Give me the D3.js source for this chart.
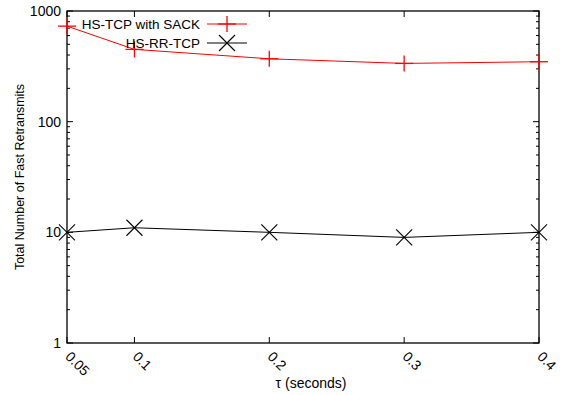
<!DOCTYPE html>
<html>
<head>
<meta charset="utf-8">
<script src="https://cdn.jsdelivr.net/npm/d3@7"></script>
<style>
  body { margin: 0; background: #fff; }
  text { font-family: "Liberation Sans", Arial, sans-serif; font-size: 14px; fill: #000; }
</style>
</head>
<body>
<svg></svg>
<script>
const taus = [0.05, 0.1, 0.2, 0.3, 0.4];
const sackValues = [730, 450, 370, 336, 348];
const rrValues = [10, 11, 10, 9, 10];
const yTicks = [1, 10, 100, 1000];

const WIDTH = 563;
const HEIGHT = 395;
const margin = {top: 11, right: 24, bottom: 52, left: 67};

const svg = d3.select('svg')
    .attr('width', WIDTH)
    .attr('height', HEIGHT);

const x = d3.scaleLinear()
    .domain([0.05, 0.4])
    .range([margin.left, WIDTH - margin.right]);
const y = d3.scaleLog()
    .domain([1, 1000])
    .range([HEIGHT - margin.bottom, margin.top]);

const [x0, x1] = x.range();
const [y0, y1] = y.range();

// minor log ticks, inward on left and right
const minor = [];
for (let d = 1; d < 1000; d *= 10) {
  for (let k = 2; k < 10; k++) minor.push(d * k);
}
const ticks = svg.append('g').attr('stroke', '#000').attr('stroke-width', 1);
minor.forEach((v) => {
  ticks.append('line').attr('x1', x0).attr('x2', x0 + 3).attr('y1', y(v)).attr('y2', y(v));
  ticks.append('line').attr('x1', x1).attr('x2', x1 - 3).attr('y1', y(v)).attr('y2', y(v));
});
yTicks.forEach((v) => {
  ticks.append('line').attr('x1', x0).attr('x2', x0 + 6).attr('y1', y(v)).attr('y2', y(v));
  ticks.append('line').attr('x1', x1).attr('x2', x1 - 6).attr('y1', y(v)).attr('y2', y(v));
  svg.append('text')
      .attr('x', x0 - 6)
      .attr('y', y(v))
      .attr('dy', '0.35em')
      .attr('text-anchor', 'end')
      .text(v);
});
taus.forEach((t) => {
  ticks.append('line').attr('x1', x(t)).attr('x2', x(t)).attr('y1', y0).attr('y2', y0 - 6);
  ticks.append('line').attr('x1', x(t)).attr('x2', x(t)).attr('y1', y1).attr('y2', y1 + 6);
  svg.append('text')
      .attr('transform', `translate(${x(t) + 1}, ${y0 + 11}) rotate(45)`)
      .attr('dy', '0.35em')
      .text(String(t));
});

// frame
svg.append('rect')
    .attr('x', x0).attr('y', y1)
    .attr('width', x1 - x0).attr('height', y0 - y1)
    .attr('fill', 'none')
    .attr('stroke', '#000')
    .attr('stroke-width', 1.3);

// axis titles
svg.append('text')
    .attr('transform', `translate(24, ${(y0 + y1) / 2}) rotate(-90)`)
    .attr('text-anchor', 'middle')
    .style('font-size', '12.5px')
    .text('Total Number of Fast Retransmits');
svg.append('text')
    .attr('x', (x0 + x1) / 2 + 8)
    .attr('y', 388)
    .attr('text-anchor', 'middle')
    .text('τ (seconds)');

const line = d3.line()
    .x((d) => x(d[0]))
    .y((d) => y(d[1]));

function plus(g, cx, cy, color) {
  g.append('line').attr('x1', cx - 9).attr('x2', cx + 9).attr('y1', cy).attr('y2', cy)
      .attr('stroke', color).attr('stroke-width', 1.3);
  g.append('line').attr('x1', cx).attr('x2', cx).attr('y1', cy - 8).attr('y2', cy + 8)
      .attr('stroke', color).attr('stroke-width', 1.3);
}
function cross(g, cx, cy, color) {
  g.append('line').attr('x1', cx - 8).attr('x2', cx + 8).attr('y1', cy - 8).attr('y2', cy + 8)
      .attr('stroke', color).attr('stroke-width', 1.1);
  g.append('line').attr('x1', cx - 8).attr('x2', cx + 8).attr('y1', cy + 8).attr('y2', cy - 8)
      .attr('stroke', color).attr('stroke-width', 1.1);
}

const series = [
  {name: 'HS-TCP with SACK', values: sackValues, color: '#ff0000', marker: plus, ly: 24},
  {name: 'HS-RR-TCP', values: rrValues, color: '#000000', marker: cross, ly: 43},
];

series.forEach((s) => {
  const pts = taus.map((t, i) => [t, s.values[i]]);
  const g = svg.append('g');
  g.append('path')
      .attr('d', line(pts))
      .attr('fill', 'none')
      .attr('stroke', s.color)
      .attr('stroke-width', 1);
  pts.forEach((p) => s.marker(g, x(p[0]), y(p[1]), s.color));

  // legend
  svg.append('text')
      .attr('x', 200)
      .attr('y', s.ly)
      .attr('dy', '0.35em')
      .attr('text-anchor', 'end')
      .style('font-size', '13.5px')
      .text(s.name);
  svg.append('line')
      .attr('x1', 207).attr('x2', 247)
      .attr('y1', s.ly).attr('y2', s.ly)
      .attr('stroke', s.color)
      .attr('stroke-width', 1);
  s.marker(svg, 227, s.ly, s.color);
});
</script>
</body>
</html>
